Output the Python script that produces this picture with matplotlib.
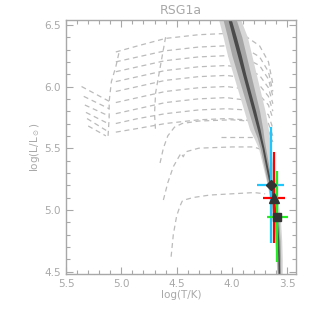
import matplotlib
matplotlib.use("Agg")
import matplotlib.pyplot as plt
from matplotlib.ticker import MultipleLocator

# ---------------- data ----------------
title = "RSG1a"
xlabel = "log(T/K)"
ylabel = r"log(L/L$_\odot$)"

# upper (massive) evolutionary tracks: shared logT grid, one logL list each
trk_T = [5.05, 4.85, 4.6, 4.3, 4.05, 3.88, 3.75, 3.67, 3.63]
trk_A1 = [6.28, 6.33, 6.39, 6.42, 6.43, 6.41, 6.33, 6.20, 6.02]
trk_A2 = [6.20, 6.24, 6.29, 6.32, 6.33, 6.31, 6.24, 6.12, 5.96]
trk_A3 = [6.12, 6.16, 6.21, 6.24, 6.25, 6.23, 6.17, 6.06, 5.92]
trk_A4 = [6.04, 6.08, 6.13, 6.16, 6.17, 6.15, 6.09, 5.99, 5.86]
trk_A5 = [5.96, 6.00, 6.05, 6.08, 6.09, 6.07, 6.01, 5.92, 5.80]
trk_A6 = [5.87, 5.91, 5.96, 5.99, 6.00, 5.98, 5.93, 5.85, 5.74]
trk_A7 = [5.78, 5.82, 5.87, 5.90, 5.91, 5.89, 5.84, 5.77, 5.66]
trk_A8 = [5.70, 5.74, 5.78, 5.81, 5.82, 5.81, 5.77, 5.70, 5.60]
trk_A9 = [5.63, 5.66, 5.70, 5.73, 5.74, 5.73, 5.70, 5.64, 5.55]

# hot starting segments (start/end logT and logL)
hot_T0 = [5.36, 5.34, 5.33, 5.32, 5.31, 5.30]
hot_L0 = [6.00, 5.92, 5.85, 5.79, 5.74, 5.68]
hot_T1 = [5.11, 5.11, 5.11, 5.12, 5.13, 5.14]
hot_L1 = [5.88, 5.82, 5.76, 5.70, 5.64, 5.60]

# left connecting line of track starts
zams_T = [5.12, 5.11, 5.11, 5.09, 5.05, 5.02]
zams_L = [5.60, 5.75, 5.88, 6.04, 6.16, 6.28]

# middle connecting line
tams_T = [4.60, 4.63, 4.66, 4.69, 4.70, 4.69]
tams_L = [6.40, 6.25, 6.10, 5.95, 5.78, 5.63]

# lower tracks
trk_B1_T = [4.65, 4.62, 4.58, 4.52, 4.45, 4.30, 4.00, 3.85, 3.78]
trk_B1_L = [5.38, 5.50, 5.60, 5.67, 5.70, 5.72, 5.73, 5.72, 5.68]
trk_B2_T = [4.62, 4.58, 4.53, 4.48, 4.46, 4.44, 4.42, 4.30, 4.00, 3.80, 3.74]
trk_B2_L = [5.08, 5.22, 5.35, 5.43, 5.46, 5.43, 5.47, 5.50, 5.51, 5.51, 5.49]
trk_B3_T = [4.55, 4.53, 4.50, 4.47, 4.45, 4.43, 4.35, 4.20, 4.00, 3.80, 3.70]
trk_B3_L = [4.62, 4.80, 4.95, 5.03, 5.07, 5.08, 5.10, 5.12, 5.13, 5.14, 5.13]
trk_C_T = [4.10, 3.90, 3.74]
trk_C_L = [5.59, 5.59, 5.59]

# grey model band (logL levels and logT edges)
band_L = [6.54, 6.40, 6.25, 6.10, 5.95, 5.80, 5.65, 5.58, 5.50, 5.35, 5.20, 5.05, 4.90, 4.75, 4.60, 4.48]
outer_left = [4.12, 4.08, 4.04, 3.99, 3.94, 3.89, 3.84, 3.80, 3.76, 3.72, 3.68, 3.65, 3.63, 3.615, 3.60, 3.595]
outer_right = [3.92, 3.86, 3.82, 3.78, 3.74, 3.70, 3.67, 3.66, 3.65, 3.63, 3.605, 3.58, 3.56, 3.55, 3.545, 3.545]
mid_left = [4.08, 4.04, 4.00, 3.95, 3.90, 3.85, 3.80, 3.77, 3.745, 3.71, 3.675, 3.645, 3.62, 3.605, 3.595, 3.59]
mid_right = [3.96, 3.91, 3.87, 3.83, 3.79, 3.75, 3.72, 3.71, 3.695, 3.665, 3.63, 3.60, 3.575, 3.565, 3.56, 3.56]
core_left = [4.035, 3.995, 3.95, 3.905, 3.86, 3.815, 3.77, 3.75, 3.728, 3.695, 3.66, 3.63, 3.607, 3.592, 3.585, 3.582]
core_right = [4.005, 3.96, 3.915, 3.875, 3.83, 3.785, 3.745, 3.73, 3.71, 3.678, 3.642, 3.612, 3.588, 3.576, 3.571, 3.568]

# observed points with error bars
obs_T = [3.65, 3.62, 3.59]
obs_L = [5.20, 5.10, 4.945]
obs_Terr = [0.125, 0.10, 0.095]
obs_Lerr = [0.47, 0.365, 0.37]
obs_marker = ["D", "^", "s"]
obs_msize = [5.5, 7, 6]
obs_color = ["#1ec8ff", "#ff0000", "#22ee22"]

# ---------------- plot ----------------
fig = plt.figure(figsize=(3.16, 3.16), dpi=100)
ax = fig.add_axes([0.209, 0.133, 0.728, 0.804])
grey = "#a8a8a8"
tcol = "#bbbbbb"
dash = dict(color=tcol, lw=0.9, ls=(0, (4, 3)), zorder=1)

for L in [trk_A1, trk_A2, trk_A3, trk_A4, trk_A5, trk_A6, trk_A7, trk_A8, trk_A9]:
    ax.plot(trk_T, L, **dash)
for t0, l0, t1, l1 in zip(hot_T0, hot_L0, hot_T1, hot_L1):
    ax.plot([t0, t1], [l0, l1], **dash)
ax.plot(zams_T, zams_L, **dash)
ax.plot(tams_T, tams_L, **dash)
ax.plot(trk_B1_T, trk_B1_L, **dash)
ax.plot(trk_B2_T, trk_B2_L, **dash)
ax.plot(trk_B3_T, trk_B3_L, **dash)
ax.plot(trk_C_T, trk_C_L, **dash)

ax.fill_betweenx(band_L, outer_left, outer_right, color="#d6d6d6", lw=0, zorder=2)
ax.fill_betweenx(band_L, mid_left, mid_right, color="#a6a6a6", lw=0, zorder=2)
ax.fill_betweenx(band_L, core_left, core_right, color="#4a4a4a", lw=0, zorder=2)

for i in range(3):
    ax.errorbar(obs_T[i], obs_L[i], xerr=obs_Terr[i], yerr=obs_Lerr[i],
                fmt="none", ecolor=obs_color[i], elinewidth=1.6, capsize=0, zorder=3)
for i in range(3):
    ax.plot(obs_T[i], obs_L[i], marker=obs_marker[i], ms=obs_msize[i],
            color="#333333", ls="none", zorder=4)

ax.set_xlim(5.5, 3.42)
ax.set_ylim(4.48, 6.54)
ax.xaxis.set_major_locator(MultipleLocator(0.5))
ax.xaxis.set_minor_locator(MultipleLocator(0.1))
ax.yaxis.set_major_locator(MultipleLocator(0.5))
ax.yaxis.set_minor_locator(MultipleLocator(0.1))
ax.tick_params(which="both", direction="in", top=True, right=True, color=grey,
               labelcolor=grey, labelsize=7.5, width=0.8)
ax.tick_params(which="major", length=5)
ax.tick_params(which="minor", length=3)
for s in ax.spines.values():
    s.set_color(grey)
    s.set_linewidth(1.0)
ax.set_xlabel(xlabel, color=grey, fontsize=7.5, labelpad=1)
ax.set_ylabel(ylabel, color=grey, fontsize=7.5, labelpad=2)
ax.set_title(title, color=grey, fontsize=9, pad=4)

fig.savefig("out.png", dpi=100)
